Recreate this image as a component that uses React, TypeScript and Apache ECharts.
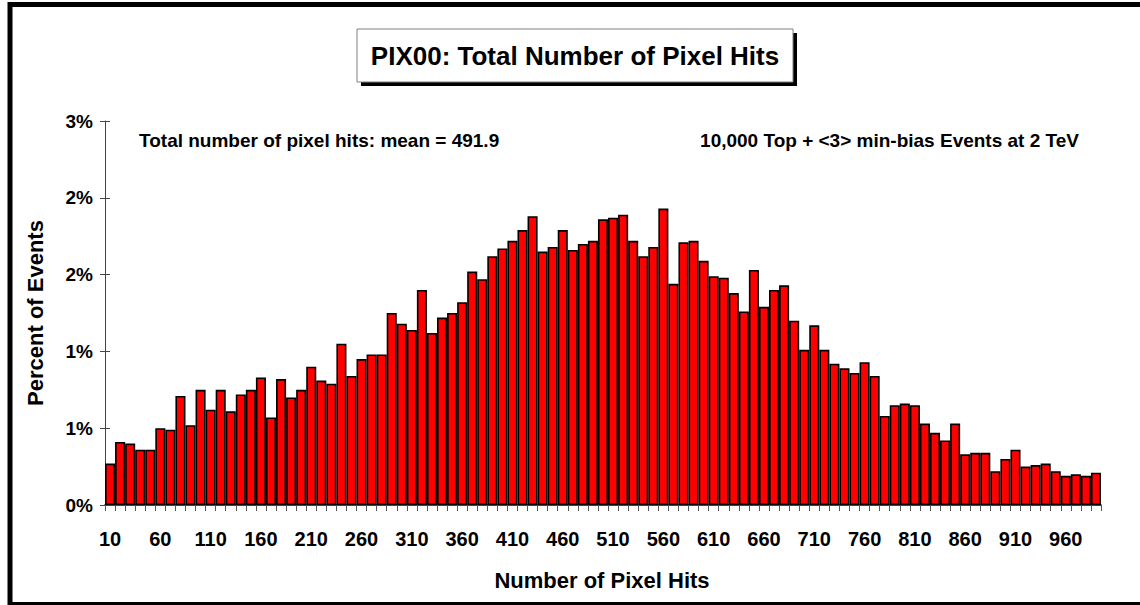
import React, { useEffect, useRef } from "react";
import * as echarts from "echarts";

const binLabels = [
  "10","20","30","40","50","60","70","80","90","100",
  "110","120","130","140","150","160","170","180","190","200",
  "210","220","230","240","250","260","270","280","290","300",
  "310","320","330","340","350","360","370","380","390","400",
  "410","420","430","440","450","460","470","480","490","500",
  "510","520","530","540","550","560","570","580","590","600",
  "610","620","630","640","650","660","670","680","690","700",
  "710","720","730","740","750","760","770","780","790","800",
  "810","820","830","840","850","860","870","880","890","900",
  "910","920","930","940","950","960","970","980","990",
];

const percentOfEvents = [
  0.27, 0.41, 0.40, 0.36, 0.36, 0.50, 0.49, 0.71, 0.52, 0.75,
  0.62, 0.75, 0.61, 0.72, 0.75, 0.83, 0.57, 0.82, 0.70, 0.75,
  0.90, 0.81, 0.79, 1.05, 0.84, 0.95, 0.98, 0.98, 1.25, 1.18,
  1.14, 1.40, 1.12, 1.22, 1.25, 1.32, 1.52, 1.47, 1.62, 1.67,
  1.72, 1.79, 1.88, 1.65, 1.68, 1.79, 1.66, 1.70, 1.72, 1.86,
  1.87, 1.89, 1.72, 1.62, 1.68, 1.93, 1.44, 1.71, 1.72, 1.59,
  1.49, 1.48, 1.38, 1.26, 1.53, 1.29, 1.40, 1.43, 1.20, 1.01,
  1.17, 1.01, 0.92, 0.89, 0.86, 0.93, 0.84, 0.58, 0.65, 0.66,
  0.65, 0.53, 0.47, 0.42, 0.53, 0.33, 0.34, 0.34, 0.22, 0.30,
  0.36, 0.25, 0.26, 0.27, 0.22, 0.19, 0.20, 0.19, 0.21,
];

const yTickLabels = ["0%", "1%", "1%", "2%", "2%", "3%"];

const chartTitle = "PIX00: Total Number of Pixel Hits";
const noteLeft = "Total number of pixel hits: mean = 491.9";
const noteRight = "10,000 Top + <3> min-bias Events at 2 TeV";
const xTitle = "Number of Pixel Hits";
const yTitle = "Percent of Events";

const FONT = "'Liberation Sans', Arial, Helvetica, sans-serif";

export default function App() {
  const ref = useRef<HTMLDivElement>(null);

  useEffect(() => {
    document.body.style.margin = "0";
    if (!ref.current) return;
    const chart = echarts.init(ref.current, undefined, { renderer: "svg" });
    chart.setOption({
      animation: false,
      backgroundColor: "#ffffff",
      grid: { left: 105, right: 39, top: 121, bottom: 100, containLabel: false },
      xAxis: {
        type: "category",
        data: binLabels,
        boundaryGap: true,
        axisLine: { show: true, lineStyle: { color: "#000", width: 1.5 } },
        axisTick: { show: true, interval: 0, length: 6, lineStyle: { color: "#555", width: 1 } },
        axisLabel: {
          interval: 4,
          margin: 24,
          color: "#000",
          fontFamily: FONT,
          fontWeight: "bold",
          fontSize: 20,
        },
        splitLine: { show: false },
      },
      yAxis: [
        {
          type: "value",
          min: 0,
          max: 2.5,
          interval: 0.5,
          position: "left",
          axisLine: { show: true, lineStyle: { color: "#444", width: 1 } },
          axisTick: { show: true, inside: false, length: 5, lineStyle: { color: "#444", width: 1 } },
          axisLabel: {
            margin: 12,
            color: "#000",
            fontFamily: FONT,
            fontWeight: "bold",
            fontSize: 19,
            formatter: (_v: number, i: number) => yTickLabels[i],
          },
          splitLine: { show: false },
        },
        {
          type: "value",
          min: 0,
          max: 2.5,
          interval: 0.5,
          position: "left",
          axisLine: { show: false },
          axisTick: { show: true, inside: true, length: 5, lineStyle: { color: "#444", width: 1 } },
          axisLabel: { show: false },
          splitLine: { show: false },
        },
      ],
      series: [
        {
          type: "bar",
          data: percentOfEvents,
          yAxisIndex: 0,
          barCategoryGap: "0%",
          itemStyle: { color: "#ff0000", borderColor: "#000", borderWidth: 1.6 },
        },
      ],
      graphic: [
        {
          type: "rect",
          shape: { x: 10, y: 4.5, width: 1140, height: 600 },
          style: { fill: "none", stroke: "#000", lineWidth: 5 },
          silent: true,
          z: 100,
        },
        {
          type: "rect",
          shape: { x: 361, y: 33, width: 436, height: 53 },
          style: { fill: "#000" },
          z: 100,
        },
        {
          type: "rect",
          shape: { x: 357, y: 29, width: 436, height: 53 },
          style: { fill: "#fff", stroke: "#808080", lineWidth: 1 },
          z: 101,
        },
        {
          type: "text",
          x: 575,
          y: 56,
          z: 102,
          style: {
            text: chartTitle,
            fill: "#000",
            font: `bold 26px ${FONT}`,
            align: "center",
            verticalAlign: "middle",
          },
        },
        {
          type: "text",
          x: 139,
          y: 140,
          z: 102,
          style: {
            text: noteLeft,
            fill: "#000",
            font: `bold 19px ${FONT}`,
            align: "left",
            verticalAlign: "middle",
          },
        },
        {
          type: "text",
          x: 1079,
          y: 140,
          z: 102,
          style: {
            text: noteRight,
            fill: "#000",
            font: `bold 19px ${FONT}`,
            align: "right",
            verticalAlign: "middle",
          },
        },
        {
          type: "text",
          x: 602,
          y: 580,
          z: 102,
          style: {
            text: xTitle,
            fill: "#000",
            font: `bold 22px ${FONT}`,
            align: "center",
            verticalAlign: "middle",
          },
        },
        {
          type: "text",
          x: 35,
          y: 313,
          rotation: Math.PI / 2,
          z: 102,
          style: {
            text: yTitle,
            fill: "#000",
            font: `bold 22px ${FONT}`,
            align: "center",
            verticalAlign: "middle",
          },
        },
      ],
    });
    return () => chart.dispose();
  }, []);

  return <div ref={ref} style={{ width: 1140, height: 605 }} />;
}
